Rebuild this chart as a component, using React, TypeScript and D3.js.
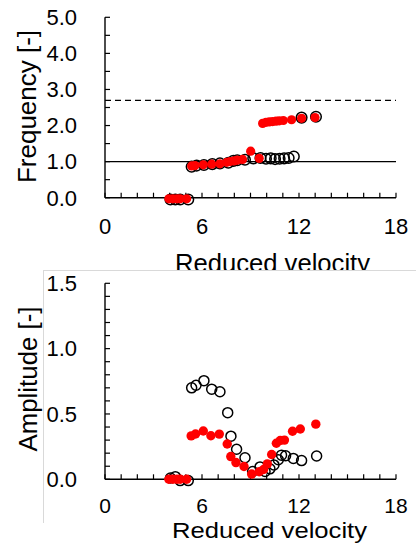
import React from "react";
import * as d3 from "d3";

// ---- data ----
const velocityTicks = [0, 6, 12, 18];
const freqTicks = [0, 1, 2, 3, 4, 5];
const ampTicks = [0, 0.5, 1.0, 1.5];

const freqOpenX = [4.05, 4.35, 4.65, 5.15, 5.36, 5.67, 6.12, 6.64, 7.11, 7.63, 7.94, 8.18, 8.66, 9.17, 9.62, 9.96, 10.25, 10.52, 10.8, 11.08, 11.36, 11.68, 12.16, 13.05];
const freqOpenY = [-0.05, -0.05, -0.05, -0.05, 0.86, 0.89, 0.905, 0.93, 0.95, 0.97, 1.02, 1.04, 1.05, 1.09, 1.1, 1.08, 1.09, 1.07, 1.08, 1.09, 1.1, 1.14, 2.22, 2.245];

const freqRedX = [3.95, 4.2, 4.45, 4.65, 5.05, 5.36, 5.57, 6.08, 6.6, 7.11, 7.53, 7.73, 7.98, 8.18, 8.51, 9.01, 9.54, 9.75, 9.96, 10.16, 10.37, 10.58, 10.78, 11.03, 11.54, 12.16, 12.99];
const freqRedY = [-0.03, -0.03, -0.03, -0.03, -0.03, 0.88, 0.89, 0.91, 0.93, 0.94, 0.98, 1.0, 1.02, 1.04, 1.06, 1.29, 1.09, 2.06, 2.09, 2.1, 2.11, 2.12, 2.13, 2.14, 2.16, 2.2, 2.22];

const naturalFreq = 1.0;
const secondFreq = 2.7;

const ampOpenX = [4.05, 4.35, 4.65, 5.15, 5.36, 5.63, 6.12, 6.6, 7.11, 7.59, 7.79, 8.14, 8.66, 9.13, 9.59, 9.9, 10.2, 10.45, 10.72, 10.92, 11.17, 11.65, 12.16, 13.09];
const ampOpenY = [0.01, 0.02, -0.01, -0.01, 0.7, 0.72, 0.755, 0.69, 0.67, 0.51, 0.33, 0.23, 0.165, 0.06, 0.095, 0.06, 0.08, 0.11, 0.15, 0.185, 0.18, 0.16, 0.143, 0.178];

const ampRedX = [3.95, 4.2, 4.45, 4.65, 5.05, 5.33, 5.6, 6.08, 6.55, 7.07, 7.56, 7.78, 8.1, 8.6, 9.07, 9.54, 9.81, 10.04, 10.31, 10.6, 10.84, 11.1, 11.6, 12.08, 13.04];
const ampRedY = [0, 0, 0, 0, 0, 0.332, 0.347, 0.37, 0.333, 0.346, 0.27, 0.174, 0.128, 0.098, 0.04, 0.058, 0.075, 0.118, 0.19, 0.276, 0.297, 0.3, 0.368, 0.385, 0.422];

const FONT = "'Liberation Sans', Arial, sans-serif";

type PanelProps = {
  y0: number;
  y1: number;
  yMax: number;
  yTicks: number[];
  yMinorStep: number;
  yTitle: string;
  yTitleLen: number;
  yTitleCenter: number;
  yTitleX: number;
  xTickBaseline: number;
  xTickSize: number;
  xTitleBaseline: number;
  xTitleCenter: number;
  xTitleSize: number;
  openX: number[];
  openY: number[];
  redX: number[];
  redY: number[];
  openR: number;
  redR: number;
  refLines?: { v: number; dash?: string }[];
};

function Panel(p: PanelProps) {
  const x = d3.scaleLinear().domain([0, 18]).range([105, 396]);
  const y = d3.scaleLinear().domain([0, p.yMax]).range([p.y0, p.y1]);
  const xMinor = d3.range(0, 18.001, 1);
  const nMinor = Math.round(p.yMax / p.yMinorStep);
  const yMinor = d3.range(0, nMinor + 1).map((i) => i * p.yMinorStep);
  return (
    <g>
      {(p.refLines || []).map((r, i) => (
        <line key={"r" + i} x1={x(0)} x2={x(18)} y1={y(r.v)} y2={y(r.v)} stroke="#000" strokeWidth={1.3} strokeDasharray={r.dash} />
      ))}
      <line x1={x(0)} x2={x(18)} y1={y(0)} y2={y(0)} stroke="#000" strokeWidth={1.4} />
      <line x1={x(0)} x2={x(0)} y1={y(0)} y2={y(p.yMax)} stroke="#000" strokeWidth={1.4} />
      {xMinor.map((v) => (
        <line key={"xt" + v} x1={x(v)} x2={x(v)} y1={y(0)} y2={y(0) - 5} stroke="#000" strokeWidth={1.2} />
      ))}
      {yMinor.map((v) => (
        <line key={"yt" + v} x1={x(0)} x2={x(0) + 5} y1={y(v)} y2={y(v)} stroke="#000" strokeWidth={1.2} />
      ))}
      {velocityTicks.map((v) => (
        <text key={"xl" + v} x={x(v)} y={p.xTickBaseline} textAnchor="middle" fontFamily={FONT} fontSize={p.xTickSize} fill="#000">
          {v}
        </text>
      ))}
      {p.yTicks.map((v) => (
        <text key={"yl" + v} x={77} y={y(v) + 7.8} textAnchor="end" fontFamily={FONT} fontSize={22} fill="#000">
          {v.toFixed(1)}
        </text>
      ))}
      <text
        transform={`translate(${p.yTitleX},${p.yTitleCenter}) rotate(-90)`}
        textAnchor="middle"
        fontFamily={FONT}
        fontSize={25}
        textLength={p.yTitleLen}
        lengthAdjust="spacingAndGlyphs"
        fill="#000"
      >
        {p.yTitle}
      </text>
      <text
        x={p.xTitleCenter}
        y={p.xTitleBaseline}
        textAnchor="middle"
        fontFamily={FONT}
        fontSize={p.xTitleSize}
        textLength={195}
        lengthAdjust="spacingAndGlyphs"
        fill="#000"
      >
        Reduced velocity
      </text>
      {p.openX.map((v, i) => (
        <circle key={"o" + i} cx={x(v)} cy={y(p.openY[i])} r={p.openR} fill="none" stroke="#000" strokeWidth={1.5} />
      ))}
      {p.redX.map((v, i) => (
        <circle key={"d" + i} cx={x(v)} cy={y(p.redY[i])} r={p.redR} fill="#ff0000" />
      ))}
    </g>
  );
}

export default function App() {
  return (
    <svg width={416} height={543} style={{ position: "absolute", left: 0, top: 0, background: "#fff" }}>
      <rect x={0} y={0} width={416} height={543} fill="#fff" />
      <Panel
        y0={197.7}
        y1={17.3}
        yMax={5}
        yTicks={freqTicks}
        yMinorStep={0.5}
        yTitle="Frequency [-]"
        yTitleLen={153}
        yTitleCenter={106.5}
        yTitleX={35.5}
        xTickBaseline={234}
        xTickSize={22}
        xTitleBaseline={271.5}
        xTitleCenter={272.5}
        xTitleSize={25}
        openX={freqOpenX}
        openY={freqOpenY}
        redX={freqRedX}
        redY={freqRedY}
        openR={5.3}
        redR={4.6}
        refLines={[{ v: naturalFreq }, { v: secondFreq, dash: "6,4" }]}
      />
      <rect x={0} y={270.5} width={416} height={273} fill="#fff" />
      <line x1={43} x2={416} y1={270.5} y2={270.5} stroke="#d9d9d9" strokeWidth={1} />
      <line x1={43.5} x2={43.5} y1={270} y2={523} stroke="#d9d9d9" strokeWidth={1} />
      <Panel
        y0={479.3}
        y1={283.3}
        yMax={1.5}
        yTicks={ampTicks}
        yMinorStep={0.1}
        yTitle="Amplitude [-]"
        yTitleLen={145}
        yTitleCenter={379}
        yTitleX={36.5}
        xTickBaseline={513}
        xTickSize={21}
        xTitleBaseline={538}
        xTitleCenter={269.5}
        xTitleSize={22}
        openX={ampOpenX}
        openY={ampOpenY}
        redX={ampRedX}
        redY={ampRedY}
        openR={5}
        redR={4.7}
      />
    </svg>
  );
}
